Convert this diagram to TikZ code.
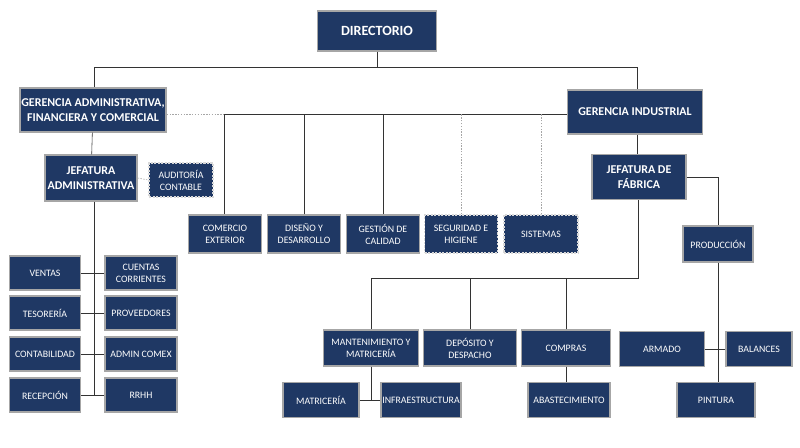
\documentclass[tikz,border=0pt]{standalone}
\usepackage{fontspec}
\setmainfont{Carlito}
\usetikzlibrary{calc}
\definecolor{navy}{HTML}{1F3864}
\tikzset{
    box/.style={draw=gray!70,line width=1pt,fill=navy,text=white,align=center,inner sep=1pt,font=\fontsize{7}{8.5}\selectfont},
    big box/.style={box,font=\fontsize{8.5}{10.5}\selectfont\bfseries},
    aux box/.style={box,draw=gray!30,dash pattern=on 1.5pt off 1pt},
    link/.style={draw=black!80,thin},
    dotlink/.style={draw=gray!70,thin,dash pattern=on 1pt off 1pt},
}
\newcommand{\bx}[6][box]{% style, name, x, y, w, h
    \node[#1,minimum width=#5*0.025cm,minimum height=#6*0.025cm] (#2) at (#3,#4)}
\begin{document}
\begin{tikzpicture}[x=0.025cm,y=-0.025cm]
    \useasboundingbox[fill=white] (0,0) rectangle (800,447);
    % top levels
    \bx[big box]{dir}{377}{31}{119}{40} {\fontsize{10}{12}\selectfont DIRECTORIO};
    \bx[big box]{gaf}{93}{110}{142}{44} {GERENCIA ADMINISTRATIVA,\\FINANCIERA Y COMERCIAL};
    \bx[big box]{gi}{635}{112}{135}{44} {GERENCIA INDUSTRIAL};
    \bx[big box]{jadm}{91}{178}{92}{46} {JEFATURA\\ADMINISTRATIVA};
    \bx[aux box]{aud}{181}{180}{64}{34} {AUDITORÍA\\CONTABLE};
    \bx[big box]{jfab}{639}{177}{94}{45} {JEFATURA DE\\FÁBRICA};
    % staff units
    \bx{com}{225}{234}{73}{38} {COMERCIO\\EXTERIOR};
    \bx{dis}{304}{234}{73}{38} {DISEÑO Y\\DESARROLLO};
    \bx{ges}{383}{234}{73}{38} {GESTIÓN DE\\CALIDAD};
    \bx[aux box]{seg}{461}{234}{73}{38} {SEGURIDAD E\\HIGIENE};
    \bx[aux box]{sis}{541}{234}{74}{38} {SISTEMAS};
    % administrative column
    \bx{ven}{45}{273}{71}{34} {VENTAS};
    \bx{cue}{141}{273}{72}{34} {CUENTAS\\CORRIENTES};
    \bx{tes}{45}{313}{71}{34} {TESORERÍA};
    \bx{pro}{141}{313}{72}{34} {PROVEEDORES};
    \bx{cont}{45}{354}{71}{34} {CONTABILIDAD};
    \bx{acx}{141}{354}{72}{34} {ADMIN COMEX};
    \bx{rec}{45}{395}{71}{34} {RECEPCIÓN};
    \bx{rrhh}{141}{395}{72}{34} {RRHH};
    % factory
    \bx{prod}{718}{244}{70}{36} {PRODUCCIÓN};
    \bx{arm}{662}{349}{85}{35} {ARMADO};
    \bx{bal}{759}{349}{66}{35} {BALANCES};
    \bx{pin}{716}{400}{78}{35} {PINTURA};
    \bx{man}{371}{348}{95}{36} {MANTENIMIENTO Y\\MATRICERÍA};
    \bx{dep}{470}{348}{93}{36} {DEPÓSITO Y\\DESPACHO};
    \bx{cpr}{566}{348}{89}{36} {COMPRAS};
    \bx{mat}{321}{400}{76}{35} {MATRICERÍA};
    \bx{inf}{421}{400}{79}{35} {INFRAESTRUCTURA};
    \bx{aba}{569}{400}{82}{35} {ABASTECIMIENTO};

    % connectors
    \begin{scope}[on background layer/.try]
    \coordinate (bus) at (377,67);
    \draw[link] (dir) -- (bus) (94,67) -- (637,67)
        (94,67) -- (gaf.north -| 94,0) (637,67) -- (gi.north -| 637,0);
    \draw[link] (gaf) -- (jadm);
    \draw[dotlink] (jadm.east) -- (aud.west);
    \coordinate (staff) at (224,114);
    \draw[dotlink] (gaf.east |- staff) -- (staff);
    \draw[link] (staff) -- (gi.west |- staff);
    \draw[link] (staff) -- (com.north -| staff)
        (dis.north) -- (dis.north |- staff)
        (ges.north) -- (ges.north |- staff);
    \draw[dotlink] (seg.north) -- (seg.north |- staff)
        (sis.north) -- (sis.north |- staff);
    % admin column
    \draw[link] (jadm.south -| 94,0) -- (94,395);
    \foreach \l/\r in {ven/cue,tes/pro,cont/acx,rec/rrhh}
        \draw[link] (\l.east) -- (\r.west);
    % factory
    \draw[link] (gi.south -| 637,0) -- (jfab.north -| 637,0);
    \draw[link] (jfab.east) -- (jfab.east -| prod.north) -- (prod.north);
    \draw[link] (prod.south) -- (pin.north -| prod.south);
    \draw[link] (arm.east) -- (bal.west);
    \coordinate (ops) at (638,278);
    \draw[link] (jfab.south -| ops) -- (ops) -- (man.north |- ops) -- (man.north);
    \draw[link] (dep.north) -- (dep.north |- ops)
        (cpr.north) -- (cpr.north |- ops);
    \draw[link] (cpr.south) -- (aba.north -| cpr.south);
    \draw[link] (man.south) -- (man.south |- mat.east);
    \draw[link] (mat.east) -- (inf.west);
    \end{scope}
\end{tikzpicture}
\end{document}
